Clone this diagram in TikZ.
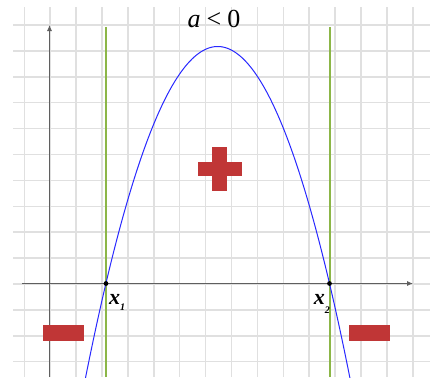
\documentclass[tikz,border=0pt]{standalone}
\usepackage{fontspec}
\setmainfont{Liberation Serif}
\usetikzlibrary{arrows.meta}
\definecolor{gridc}{RGB}{224,224,224}
\definecolor{axisc}{RGB}{95,95,95}
\definecolor{greenc}{RGB}{140,182,72}
\definecolor{signc}{RGB}{192,54,54}
\definecolor{curvec}{RGB}{40,40,255}
\tikzset{
  gridline/.style={draw=gridc, line width=1.5pt},
  axisline/.style={draw=axisc, line width=0.9pt, -{Latex[length=6pt,width=5pt]}},
  rootline/.style={draw=greenc, line width=2pt},
  rootlabel/.style={font=\fontsize{22}{24}\selectfont\itshape\bfseries, inner sep=0pt},
}
\begin{document}
\begin{tikzpicture}[x=1pt,y=-1pt]
\useasboundingbox (0,0) rectangle (430,381);
\fill[white] (0,0) rectangle (430,381);
% grid
\foreach \k in {0,...,15} {
  \draw[gridline] ({24.3+25.9*\k},7) -- ({24.3+25.9*\k},377);
}
\foreach \k in {0,...,13} {
  \draw[gridline] (13,{25+25.9*\k}) -- (430,{25+25.9*\k});
}
% axes
\coordinate (yb) at (49.5,377);
\coordinate (yt) at (49.5,25);
\coordinate (xl) at (22,283.5);
\coordinate (xr) at (413,283.5);
\draw[axisline] (yb) -- (yt);
\draw[axisline] (xl) -- (xr);
% green vertical lines
\coordinate (g1t) at (106,27); \coordinate (g1b) at (106,377);
\coordinate (g2t) at (329.5,27); \coordinate (g2b) at (329.5,377);
\draw[rootline] (g1t) -- (g1b);
\draw[rootline] (g2t) -- (g2b);
% parabola
\draw[curvec, line width=1pt, domain=85.5:349.9, samples=120, smooth]
  plot (\x,{46.5+237*((\x-217.7)/111.8)^2});
% root dots
\fill[black] (106,283.5) circle (2.4);
\fill[black] (329.5,283.5) circle (2.4);
% labels
\node[rootlabel, anchor=base west] (x1) at (109,304) {x\raisebox{-6pt}{\fontsize{10}{11}\selectfont 1}};
\node[rootlabel, anchor=base east] (x2) at (330,304) {x\raisebox{-9pt}{\fontsize{10}{11}\selectfont 2}};
% title
\node[anchor=base, inner sep=0pt, font=\fontsize{26}{30}\selectfont] (title) at (214,27) {\textit{a}\hspace{6pt}<\hspace{6pt}0};
% plus sign
\fill[signc] (197.5,161.5) rectangle (241.5,176);
\fill[signc] (212.3,147) rectangle (227.3,190.5);
% minus signs
\fill[signc] (42.5,325) rectangle (83.5,340.5);
\fill[signc] (348.5,325) rectangle (389.5,340.5);
\end{tikzpicture}
\end{document}
